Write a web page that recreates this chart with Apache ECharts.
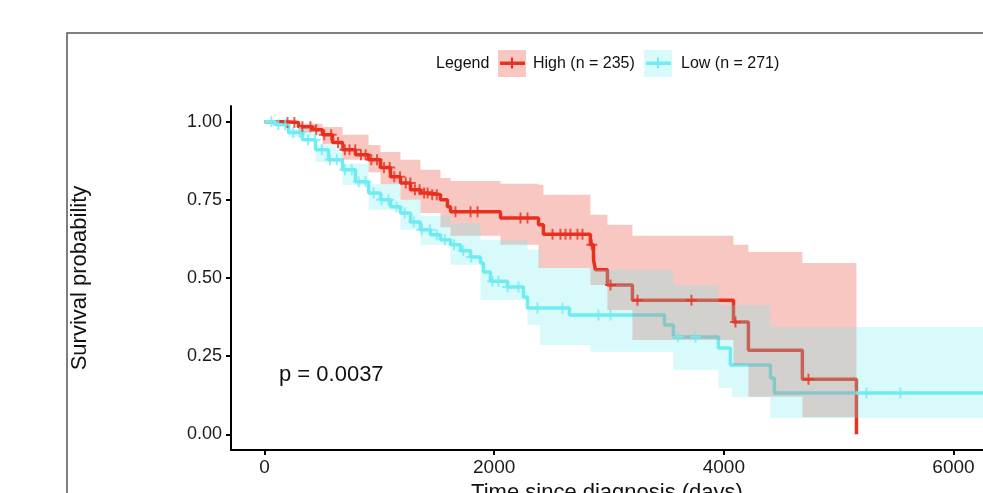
<!DOCTYPE html>
<html><head><meta charset="utf-8">
<script src="https://cdn.jsdelivr.net/npm/echarts@6/dist/echarts.min.js"></script>
<style>html,body{margin:0;padding:0;background:#fff}#c{width:983px;height:493px}</style>
</head><body><div id="c"></div>
<script>
// ---- data ----
const highTime = [0, 183, 296, 418, 505, 592, 679, 792, 906, 1010, 1097, 1184, 1271, 1358, 1445, 1532, 1593, 1620, 2055, 2386, 2429, 2838, 2865, 2882, 2986, 3204, 4084, 4214, 4684, 5155];
const highSurv = [1.0, 0.997, 0.984, 0.974, 0.958, 0.933, 0.910, 0.894, 0.878, 0.853, 0.824, 0.804, 0.782, 0.772, 0.766, 0.750, 0.728, 0.712, 0.692, 0.670, 0.640, 0.606, 0.558, 0.526, 0.478, 0.429, 0.359, 0.269, 0.176, 0.0];
const highCiTime = [0, 300, 505, 679, 906, 1010, 1184, 1358, 1532, 1620, 2055, 2386, 2429, 2838, 2986, 3204, 4084, 4214, 4684, 5155];
const highUpper = [1.0, 0.993, 0.983, 0.958, 0.925, 0.903, 0.878, 0.846, 0.820, 0.810, 0.801, 0.798, 0.766, 0.702, 0.670, 0.635, 0.606, 0.583, 0.548, 0.548];
const highLower = [1.0, 0.966, 0.928, 0.878, 0.838, 0.800, 0.750, 0.708, 0.662, 0.635, 0.606, 0.532, 0.532, 0.478, 0.398, 0.302, 0.222, 0.120, 0.055, 0.055];
const highCensor = [200, 260, 330, 400, 450, 520, 580, 640, 700, 740, 790, 840, 880, 930, 980, 1040, 1090, 1130, 1180, 1230, 1270, 1310, 1350, 1390, 1420, 1460, 1500, 1663, 1794, 1855, 2229, 2290, 2508, 2577, 2621, 2664, 2725, 2769, 2850, 3013, 3248, 3718, 4101, 4737];

const lowTime = [0, 96, 209, 331, 444, 557, 679, 792, 906, 1010, 1097, 1184, 1271, 1358, 1445, 1532, 1620, 1707, 1794, 1881, 1907, 1968, 2116, 2255, 2290, 2656, 3483, 3561, 3953, 4057, 4406, 4440, 6400];
const lowSurv = [1.0, 0.990, 0.965, 0.942, 0.910, 0.878, 0.846, 0.808, 0.772, 0.750, 0.728, 0.708, 0.679, 0.654, 0.638, 0.622, 0.606, 0.587, 0.567, 0.548, 0.519, 0.490, 0.471, 0.439, 0.404, 0.382, 0.350, 0.311, 0.276, 0.222, 0.180, 0.132, 0.132];
const lowCiTime = [0, 209, 444, 679, 906, 1184, 1358, 1620, 1881, 2290, 2400, 2838, 3561, 3953, 4070, 4406, 6400];
const lowUpper = [1.0, 0.976, 0.926, 0.866, 0.800, 0.750, 0.700, 0.675, 0.622, 0.590, 0.532, 0.526, 0.478, 0.414, 0.414, 0.343, 0.343];
const lowLower = [1.0, 0.950, 0.871, 0.797, 0.718, 0.654, 0.606, 0.542, 0.430, 0.350, 0.286, 0.264, 0.206, 0.148, 0.119, 0.052, 0.052];
const lowCensor = [60, 120, 180, 250, 310, 380, 440, 500, 570, 630, 700, 760, 820, 880, 950, 1020, 1080, 1150, 1220, 1300, 1370, 1440, 1500, 1570, 1650, 1730, 1800, 1985, 2037, 2116, 2212, 2377, 2595, 2908, 3013, 3600, 3753, 5242, 5538];

const xTicks = [0, 2000, 4000, 6000];
const yTicks = [0, 0.25, 0.5, 0.75, 1.0];
const legendLabels = ['High (n = 235)', 'Low (n = 271)'];
const pText = 'p = 0.0037';
const xTitle = 'Time since diagnosis (days)';
const yTitle = 'Survival probability';

// ---- styling ----
const RED = '#E8311F', CYAN = '#70ECF2', BAND_OP = 0.27;
const FONT = "'Liberation Sans', Arial, Helvetica, sans-serif";

function stepAt(times, vals, t) {
  let v = vals[0];
  for (let i = 0; i < times.length; i++) { if (times[i] <= t) v = vals[i]; else break; }
  return v;
}
const zip = (a, b) => a.map((v, i) => [v, b[i]]);
const CROSS = 'path://M0,4.5H11V6.5H0Z M4.5,0H6.5V11H4.5Z';

function lineSeries(name, t, s, color) {
  return { name, type: 'line', step: 'end', data: zip(t, s), showSymbol: false, symbol: 'none',
    lineStyle: { color, width: 3.5 }, z: 2, silent: true };
}
// confidence ribbon as one step polygon, positioned through the axes (api.coord)
function bandSeries(t, lo, up, color) {
  return {
    type: 'custom', clip: true, z: 3, silent: true,
    data: [[t[0], up[0]]],
    renderItem: function (params, api) {
      const pts = [];
      for (let i = 0; i < t.length - 1; i++) {
        pts.push(api.coord([t[i], up[i]]), api.coord([t[i + 1], up[i]]));
      }
      for (let i = t.length - 2; i >= 0; i--) {
        pts.push(api.coord([t[i + 1], lo[i]]), api.coord([t[i], lo[i]]));
      }
      return { type: 'polygon', shape: { points: pts }, style: { fill: color, opacity: BAND_OP } };
    }
  };
}
function censorSeries(times, t, s, color) {
  return { type: 'scatter', data: times.map(c => [c, stepAt(t, s, c)]), symbol: CROSS, symbolSize: 11,
    itemStyle: { color }, z: 5, silent: true };
}

const chart = echarts.init(document.getElementById('c'), null, { renderer: 'canvas' });
chart.setOption({
  animation: false,
  backgroundColor: '#fff',
  grid: { left: 231, right: 0, top: 106, bottom: 43, outerBoundsMode: 'none', containLabel: false },
  xAxis: {
    type: 'value', min: -292, max: 6257,
    name: xTitle, nameLocation: 'middle', nameGap: 26,
    nameTextStyle: { fontFamily: FONT, fontSize: 22, color: '#111' },
    splitLine: { show: false },
    axisLine: { onZero: false, lineStyle: { color: '#000', width: 2 } },
    axisTick: { customValues: xTicks, length: 5, lineStyle: { color: '#000', width: 2 } },
    axisLabel: { customValues: xTicks, margin: 8, fontFamily: FONT, fontSize: 19, color: '#1a1a1a',
      formatter: v => String(v) }
  },
  yAxis: {
    type: 'value', min: -0.05, max: 1.05,
    name: yTitle, nameLocation: 'middle', nameGap: 140, nameRotate: 90,
    nameTextStyle: { fontFamily: FONT, fontSize: 22, color: '#111' },
    splitLine: { show: false },
    axisLine: { show: true, onZero: false, lineStyle: { color: '#000', width: 2 } },
    axisTick: { show: true, customValues: yTicks, length: 5, lineStyle: { color: '#000', width: 2 } },
    axisLabel: { customValues: yTicks, margin: 9, fontFamily: FONT, fontSize: 18, color: '#1a1a1a',
      formatter: v => v.toFixed(2) }
  },
  series: [
    lineSeries('High', highTime, highSurv, RED),
    lineSeries('Low', lowTime, lowSurv, CYAN),
    bandSeries(highCiTime, highLower, highUpper, RED),
    bandSeries(lowCiTime, lowLower, lowUpper, CYAN),
    censorSeries(highCensor, highTime, highSurv, RED),
    censorSeries(lowCensor, lowTime, lowSurv, CYAN)
  ],
  graphic: [
    { type: 'rect', shape: { x: 67, y: 33, width: 1000, height: 500 }, style: { fill: 'none', stroke: '#555', lineWidth: 1.5 }, z: 0, silent: true },
    { type: 'text', x: 436, y: 64, style: { text: 'Legend', font: '16px ' + FONT, fill: '#111', verticalAlign: 'middle' } },
    { type: 'rect', shape: { x: 498, y: 50, width: 28, height: 27 }, style: { fill: RED, opacity: BAND_OP } },
    { type: 'rect', shape: { x: 500, y: 61.5, width: 25, height: 3.5 }, style: { fill: RED } },
    { type: 'rect', shape: { x: 511, y: 57.5, width: 2, height: 11 }, style: { fill: RED } },
    { type: 'text', x: 533, y: 64, style: { text: legendLabels[0], font: '16px ' + FONT, fill: '#111', verticalAlign: 'middle' } },
    { type: 'rect', shape: { x: 644, y: 50, width: 28, height: 27 }, style: { fill: CYAN, opacity: BAND_OP } },
    { type: 'rect', shape: { x: 646, y: 61.5, width: 25, height: 3.5 }, style: { fill: CYAN } },
    { type: 'rect', shape: { x: 657, y: 57.5, width: 2, height: 11 }, style: { fill: CYAN } },
    { type: 'text', x: 681, y: 64, style: { text: legendLabels[1], font: '16px ' + FONT, fill: '#111', verticalAlign: 'middle' } },
    { type: 'text', x: 279, y: 375, style: { text: pText, font: '22px ' + FONT, fill: '#111', verticalAlign: 'middle' } }
  ]
});
</script></body></html>
